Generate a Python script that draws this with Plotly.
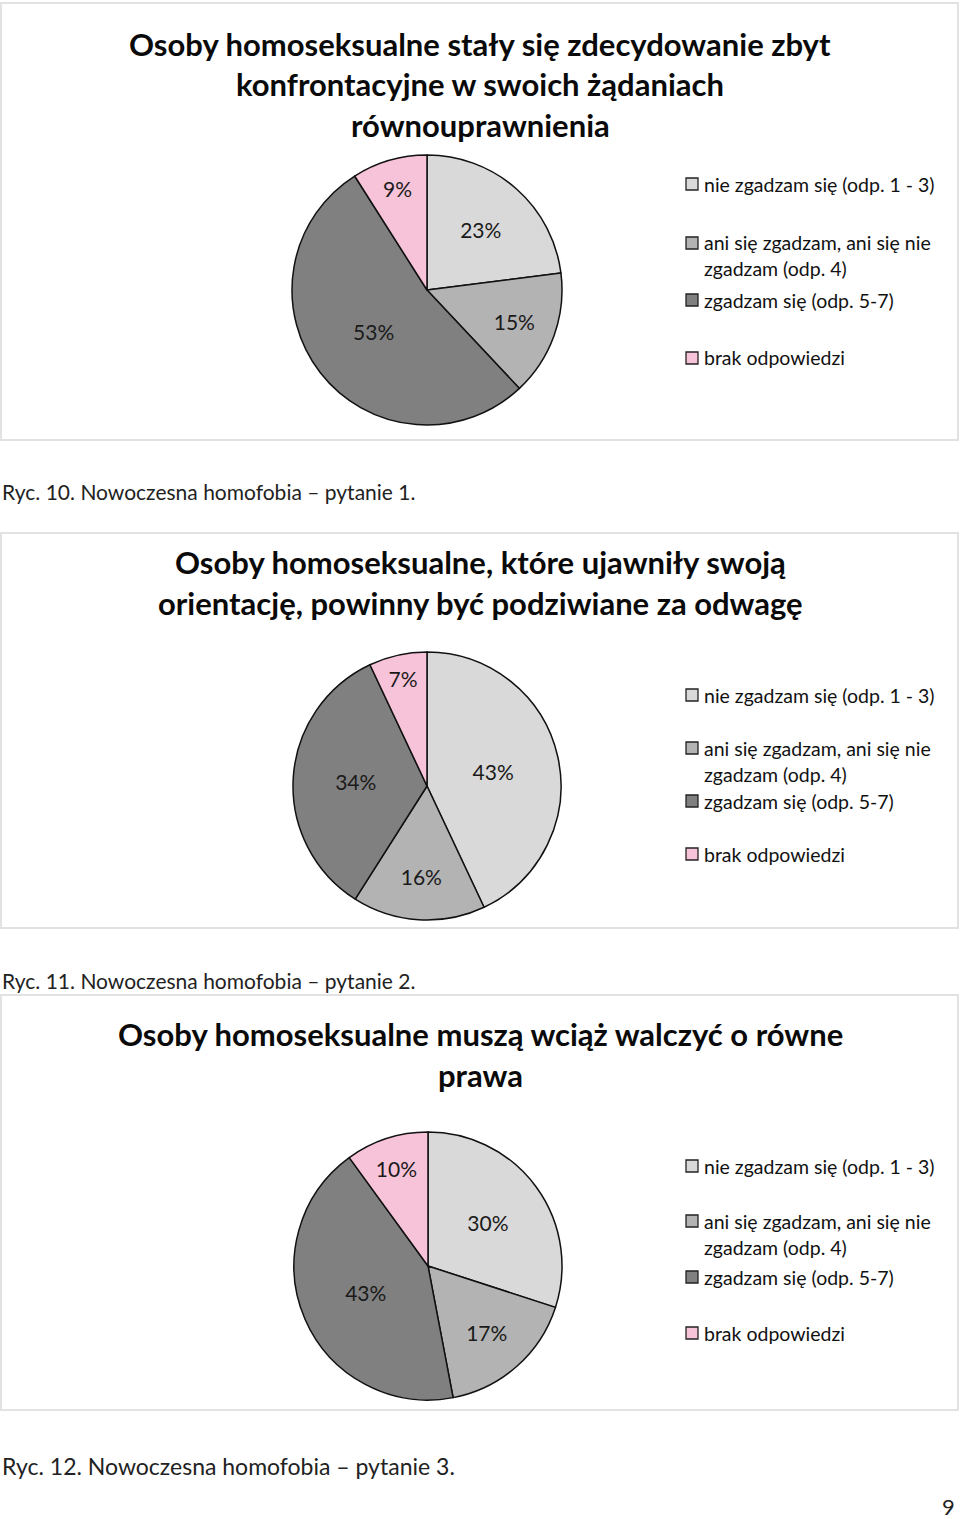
import plotly.graph_objects as go

W, H = 960, 1519

categories = ["nie zgadzam się (odp. 1 - 3)",
              "ani się zgadzam, ani się nie zgadzam (odp. 4)",
              "zgadzam się (odp. 5-7)",
              "brak odpowiedzi"]
legend_lines = [["nie zgadzam się (odp. 1 - 3)"],
                ["ani się zgadzam, ani się nie", "zgadzam (odp. 4)"],
                ["zgadzam się (odp. 5-7)"],
                ["brak odpowiedzi"]]
colors = ["#d9d9d9", "#b3b3b3", "#808080", "#f7c3d8"]

values_q1 = [23, 15, 53, 9]
values_q2 = [43, 16, 34, 7]
values_q3 = [30, 17, 43, 10]

titles = [["Osoby homoseksualne stały się zdecydowanie zbyt",
           "konfrontacyjne w swoich żądaniach",
           "równouprawnienia"],
          ["Osoby homoseksualne, które ujawniły swoją",
           "orientację, powinny być podziwiane za odwagę"],
          ["Osoby homoseksualne muszą wciąż walczyć o równe",
           "prawa"]]
captions = ["Ryc. 10. Nowoczesna homofobia – pytanie 1.",
            "Ryc. 11. Nowoczesna homofobia – pytanie 2.",
            "Ryc. 12. Nowoczesna homofobia – pytanie 3."]
page_number = "9"

# layout (pixels)
panels = [(3, 440), (533, 928), (995, 1410)]
pie_geo = [(427, 290, 135), (427, 786, 134), (428, 1266, 134)]
title_y = [[44, 84, 125], [562, 603], [1034, 1075]]
legend_y = [[[184], [243, 268], [300], [358]],
            [[695], [748, 774], [801], [854]],
            [[1166], [1221, 1247], [1277], [1333]]]
caption_y = [491, 980, 1466]
caption_size = [21, 21, 23]


def px(x):
    return x / W


def py(y):
    return 1 - y / H


FONT = "Lato"
fig = go.Figure()
shapes = []
annotations = []

for i, vals in enumerate([values_q1, values_q2, values_q3]):
    cx, cy, r = pie_geo[i]
    fig.add_trace(go.Pie(
        labels=categories, values=vals, sort=False, direction="clockwise",
        rotation=0, marker=dict(colors=colors, line=dict(color="#111111", width=1.5)),
        textinfo="percent", textposition="inside", insidetextorientation="horizontal",
        textfont=dict(family=FONT, size=21, color="#1a1a1a"),
        domain=dict(x=[px(cx - r), px(cx + r)], y=[py(cy + r), py(cy - r)]),
        showlegend=False, hoverinfo="label+percent"))

    t, b = panels[i]
    shapes.append(dict(type="rect", xref="paper", yref="paper",
                       x0=px(1), x1=px(958), y0=py(b), y1=py(t),
                       line=dict(color="#e2e2e2", width=2), fillcolor="rgba(0,0,0,0)",
                       layer="below"))
    for line, yy in zip(titles[i], title_y[i]):
        annotations.append(dict(text="<b>" + line + "</b>", x=px(480), y=py(yy),
                                xref="paper", yref="paper", showarrow=False,
                                xanchor="center", yanchor="middle",
                                font=dict(family=FONT, size=31, color="#0a0a0a")))
    for k, (lines, ys) in enumerate(zip(legend_lines, legend_y[i])):
        y0 = ys[0]
        shapes.append(dict(type="rect", xref="paper", yref="paper",
                           x0=px(686), x1=px(698), y0=py(y0 + 6), y1=py(y0 - 6),
                           fillcolor=colors[k], line=dict(color="#222222", width=1.3)))
        for line, yy in zip(lines, ys):
            annotations.append(dict(text=line, x=px(702), y=py(yy), xref="paper",
                                    yref="paper", showarrow=False, xanchor="left",
                                    yanchor="middle",
                                    font=dict(family=FONT, size=19.5, color="#111111")))
    annotations.append(dict(text=captions[i], x=0, y=py(caption_y[i]), xref="paper",
                            yref="paper", showarrow=False, xanchor="left", yanchor="middle",
                            font=dict(family=FONT, size=caption_size[i], color="#222222")))

annotations.append(dict(text=page_number, x=px(957), y=py(1506), xref="paper", yref="paper",
                        showarrow=False, xanchor="right", yanchor="middle",
                        font=dict(family=FONT, size=22, color="#222222")))

fig.update_layout(width=W, height=H, margin=dict(l=0, r=0, t=0, b=0),
                  paper_bgcolor="white", plot_bgcolor="white",
                  shapes=shapes, annotations=annotations)

fig.write_html("out.html", config={"displayModeBar": False},
               post_script="document.body.style.margin='0px';document.body.style.overflow='hidden';")
